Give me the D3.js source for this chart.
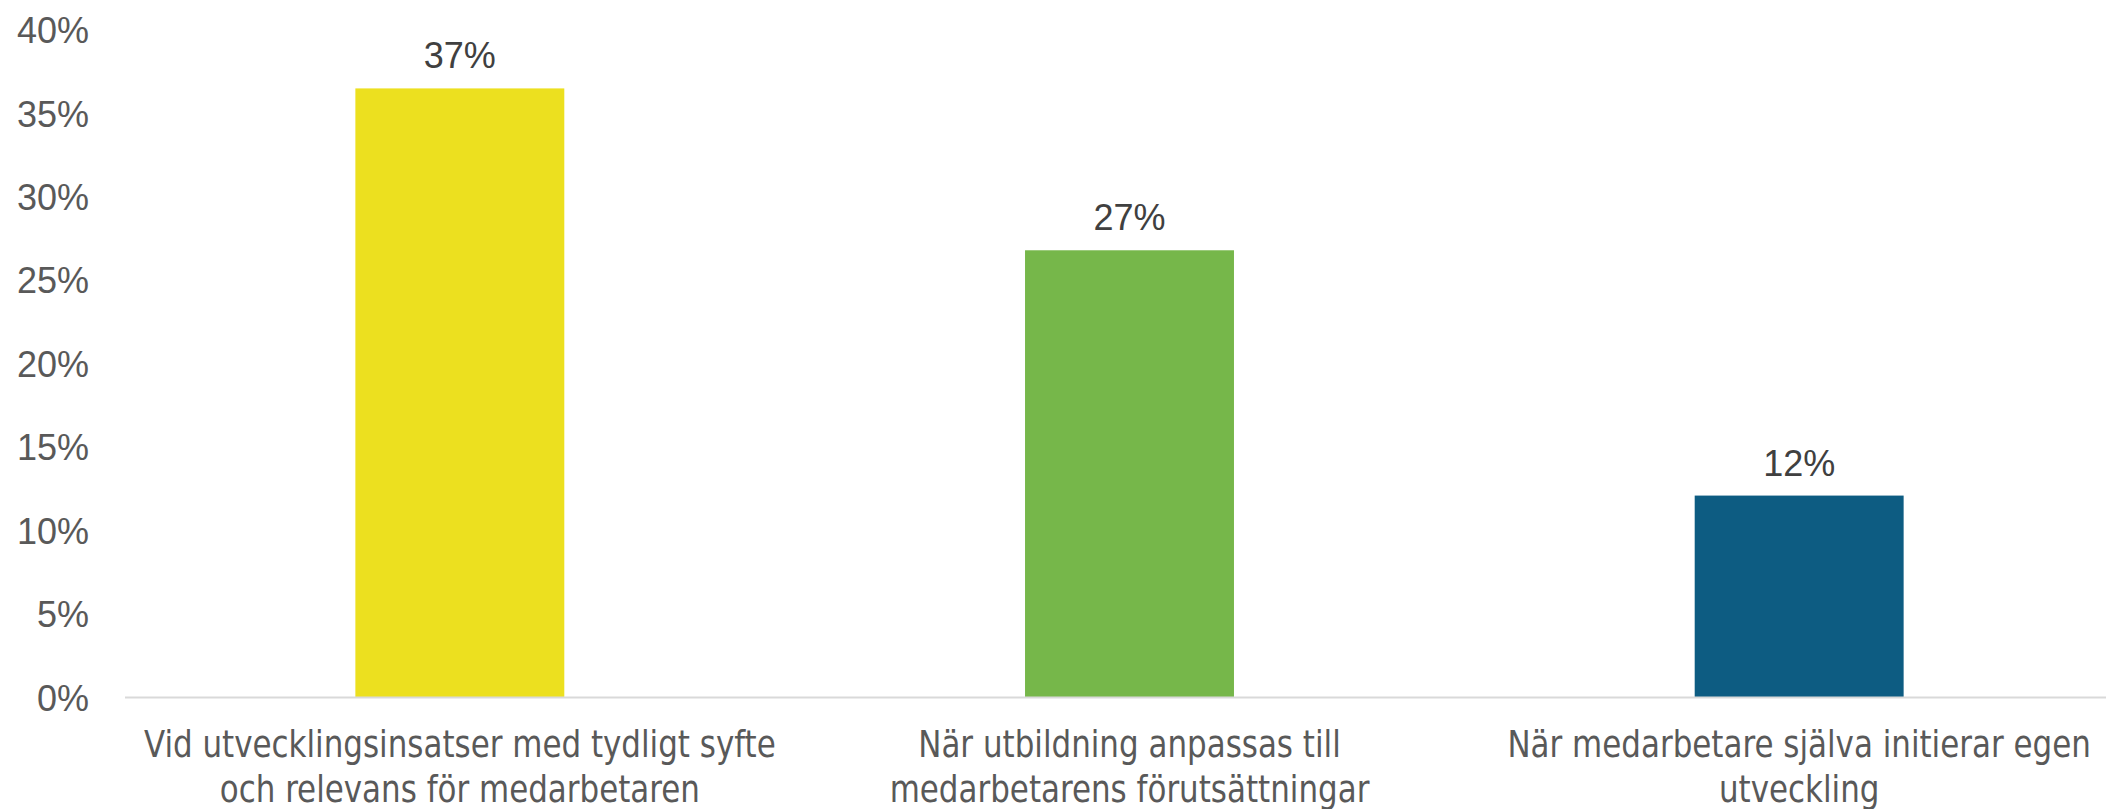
<!DOCTYPE html>
<html>
<head>
<meta charset="utf-8">
<script src="https://cdn.jsdelivr.net/npm/d3@7"></script>
<style>
  html, body { margin: 0; padding: 0; background: #ffffff; }
  svg { display: block; }
</style>
</head>
<body>
<div id="chart"></div>
<script>
// Share of respondents per answer option
const categories = [
  ["Vid utvecklingsinsatser med tydligt syfte", "och relevans för medarbetaren"],
  ["När utbildning anpassas till", "medarbetarens förutsättningar"],
  ["När medarbetare själva initierar egen", "utveckling"]
];
const values = [0.365, 0.268, 0.121];
const barColors = ["#ECE01F", "#76B74A", "#0D5C82"];
const yTicks = [0, 0.05, 0.10, 0.15, 0.20, 0.25, 0.30, 0.35, 0.40];

const width = 2106, height = 809;
const plot = { left: 125, right: 2134, top: 30, bottom: 697.5 };

const svg = d3.select("#chart").append("svg")
  .attr("width", width)
  .attr("height", height);

const x = d3.scaleBand()
  .domain(d3.range(categories.length))
  .range([plot.left, plot.right])
  .paddingInner(0.688)
  .paddingOuter(0.344);

const y = d3.scaleLinear()
  .domain([0, 0.40])
  .range([plot.bottom, plot.top]);

const pct = d3.format(".0%");

// Y axis: labels only, no domain line or ticks
const yAxis = svg.append("g")
  .attr("transform", `translate(${plot.left - 36},0)`)
  .call(d3.axisLeft(y).tickValues(yTicks).tickFormat(pct).tickSize(0).tickPadding(0));
yAxis.select(".domain").remove();
yAxis.selectAll("text")
  .attr("x", 0)
  .attr("dy", "0.35em")
  .style("font-family", "'Liberation Sans', Arial, sans-serif")
  .style("font-size", "36px")
  .attr("fill", "#595959");

// Bars
svg.append("g").selectAll("rect")
  .data(values)
  .join("rect")
  .attr("x", (d, i) => x(i))
  .attr("width", x.bandwidth())
  .attr("y", d => y(d))
  .attr("height", d => y(0) - y(d))
  .attr("fill", (d, i) => barColors[i]);

// Baseline
svg.append("line")
  .attr("x1", plot.left)
  .attr("x2", plot.right)
  .attr("y1", y(0))
  .attr("y2", y(0))
  .attr("stroke", "#D9D9D9")
  .attr("stroke-width", 2);

// Value labels above bars
svg.append("g").selectAll("text")
  .data(values)
  .join("text")
  .attr("x", (d, i) => x(i) + x.bandwidth() / 2)
  .attr("y", d => y(d) - 20)
  .attr("text-anchor", "middle")
  .style("font-family", "'Liberation Sans', Arial, sans-serif")
  .style("font-size", "36px")
  .attr("fill", "#404040")
  .text(d => pct(d));

// Category labels, two lines each, in a horizontally condensed face
const catG = svg.append("g").selectAll("g")
  .data(categories)
  .join("g")
  .attr("transform", (d, i) => `translate(${x(i) + x.bandwidth() / 2},757) scale(0.93,1)`);
catG.append("text")
  .attr("text-anchor", "middle")
  .style("font-family", "'Liberation Sans Narrow', 'Arial Narrow', 'DejaVu Sans Condensed', sans-serif")
  .style("font-size", "37px")
  .attr("fill", "#595959")
  .selectAll("tspan")
  .data(d => d)
  .join("tspan")
  .attr("x", 0)
  .attr("dy", (d, j) => j === 0 ? 0 : 45)
  .text(d => d);
</script>
</body>
</html>
